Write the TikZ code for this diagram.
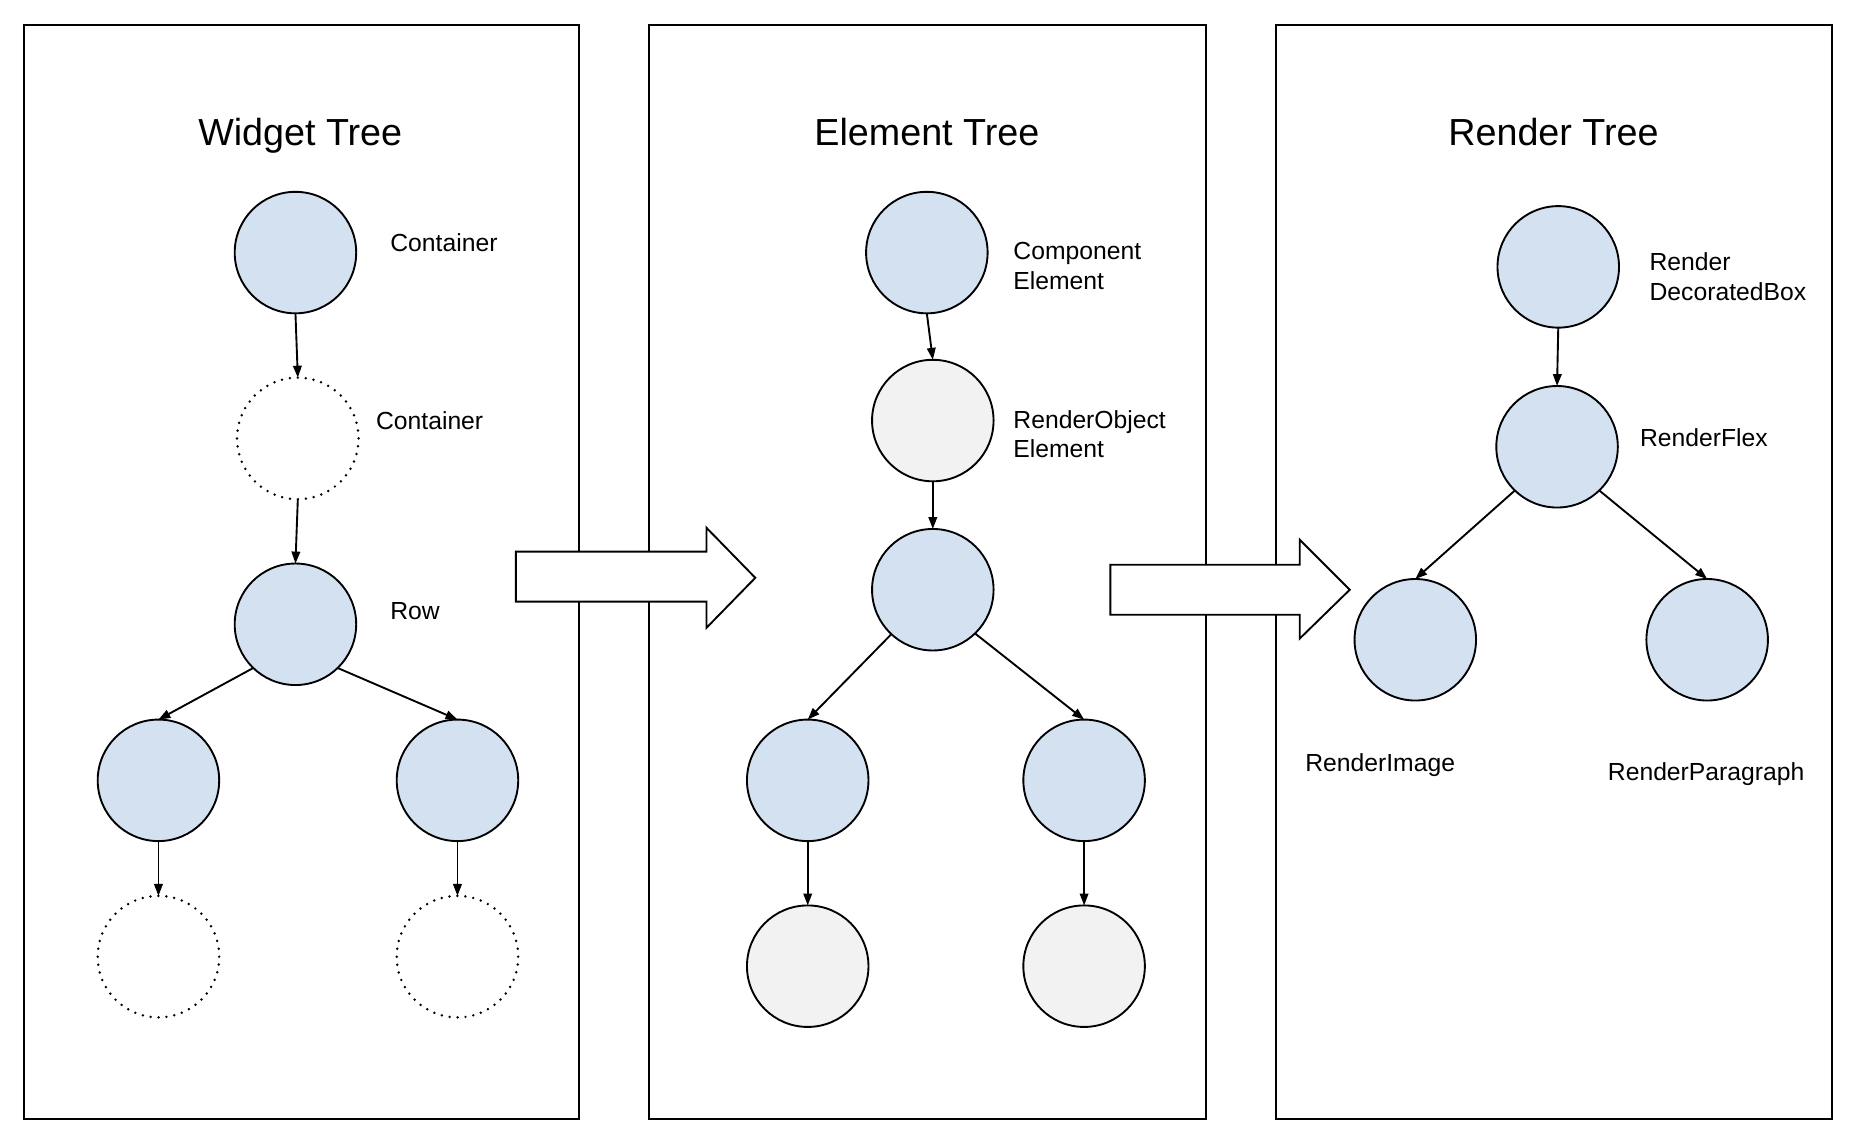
\documentclass[tikz,border=0pt]{standalone}
\usepackage{fontspec}
\setmainfont{Liberation Sans}
\usetikzlibrary{arrows.meta}
\definecolor{nodeblue}{HTML}{D3E1F1}
\definecolor{nodegrey}{HTML}{F2F2F2}
\begin{document}
\begin{tikzpicture}[x=0.1mm,y=-0.1mm,
  panel/.style={draw=black,line width=0.5pt,fill=white},
  blockarrow/.style={draw=black,line width=0.45pt,fill=white,line join=miter},
  tnode/.style={circle,draw=black,line width=0.45pt,minimum size=10.2mm,inner sep=0pt,outer sep=0pt},
  bluenode/.style={tnode,fill=nodeblue},
  greynode/.style={tnode,fill=nodegrey},
  dotnode/.style={tnode,line width=0.65pt,dash pattern=on 0pt off 1.9pt,line cap=round},
  edge/.style={line width=0.45pt,-{Triangle[length=1.0mm,width=0.72mm]}},
  title/.style={font=\fontsize{9}{10.8}\selectfont,text depth=0pt,inner sep=0pt},
  lbl/.style={font=\fontsize{5.9}{7.1}\selectfont,anchor=west,align=left,inner sep=0pt}
]
\useasboundingbox (0,0) rectangle (1568,962);
% panels
\draw[panel] (20,21) rectangle (486,939);
\draw[panel] (545,21) rectangle (1012,939);
\draw[panel] (1071,21) rectangle (1538,939);
% block arrows
\draw[blockarrow] (433,463) -- (593,463) -- (593,443) -- (634,485) -- (593,527) -- (593,505) -- (433,505) -- cycle;
\draw[blockarrow] (932,474) -- (1091,474) -- (1091,453) -- (1133,495) -- (1091,536) -- (1091,516) -- (932,516) -- cycle;
% titles
\node[title] (t1) at (252,111) {Widget Tree};
\node[title] (t2) at (778,111) {Element Tree};
\node[title] (t3) at (1304,111) {Render Tree};
% widget tree
\node[bluenode] (W1) at (248,212) {};
\node[dotnode] (W2) at (250,368) {};
\node[bluenode] (W3) at (248,524) {};
\node[bluenode] (W4) at (133,655) {};
\node[bluenode] (W5) at (384,655) {};
\node[dotnode] (W6) at (133,803) {};
\node[dotnode] (W7) at (384,803) {};
\node[lbl] (lw1) at (327,204) {Container};
\node[lbl] (lw2) at (315,353) {Container};
\node[lbl] (lw3) at (327,513) {Row};
\draw[edge] (W1.south) -- (W2.north);
\draw[edge] (W2.south) -- (W3.north);
\draw[edge] (W3.226) -- (W4.north);
\draw[edge] (W3.314) -- (W5.north);
\draw[edge] (W4.south) -- (W6.north);
\draw[edge] (W5.south) -- (W7.north);
% element tree
\node[bluenode] (E1) at (778,212) {};
\node[greynode] (E2) at (783,353) {};
\node[bluenode] (E3) at (783,495) {};
\node[bluenode] (E4) at (678,655) {};
\node[bluenode] (E5) at (910,655) {};
\node[greynode] (E6) at (678,811) {};
\node[greynode] (E7) at (910,811) {};
\node[lbl] (le1) at (850,223.5) {Component\\Element};
\node[lbl] (le2) at (850,364.5) {RenderObject\\Element};
\draw[edge] (E1.south) -- (E2.north);
\draw[edge] (E2.south) -- (E3.north);
\draw[edge] (E3.227) -- (E4.north);
\draw[edge] (E3.314) -- (E5.north);
\draw[edge] (E4.south) -- (E6.north);
\draw[edge] (E5.south) -- (E7.north);
% render tree
\node[bluenode] (R1) at (1308,224) {};
\node[bluenode] (R2) at (1307,375) {};
\node[bluenode] (R3) at (1188,537) {};
\node[bluenode] (R4) at (1433,537) {};
\node[lbl] (lr1) at (1384,232.5) {Render\\DecoratedBox};
\node[lbl] (lr2) at (1376,367) {RenderFlex};
\node[lbl] (lr3) at (1095,642) {RenderImage};
\node[lbl] (lr4) at (1349,650) {RenderParagraph};
\draw[edge] (R1.south) -- (R2.north);
\draw[edge] (R2.226) -- (R3.north);
\draw[edge] (R2.314) -- (R4.north);
\end{tikzpicture}
\end{document}
